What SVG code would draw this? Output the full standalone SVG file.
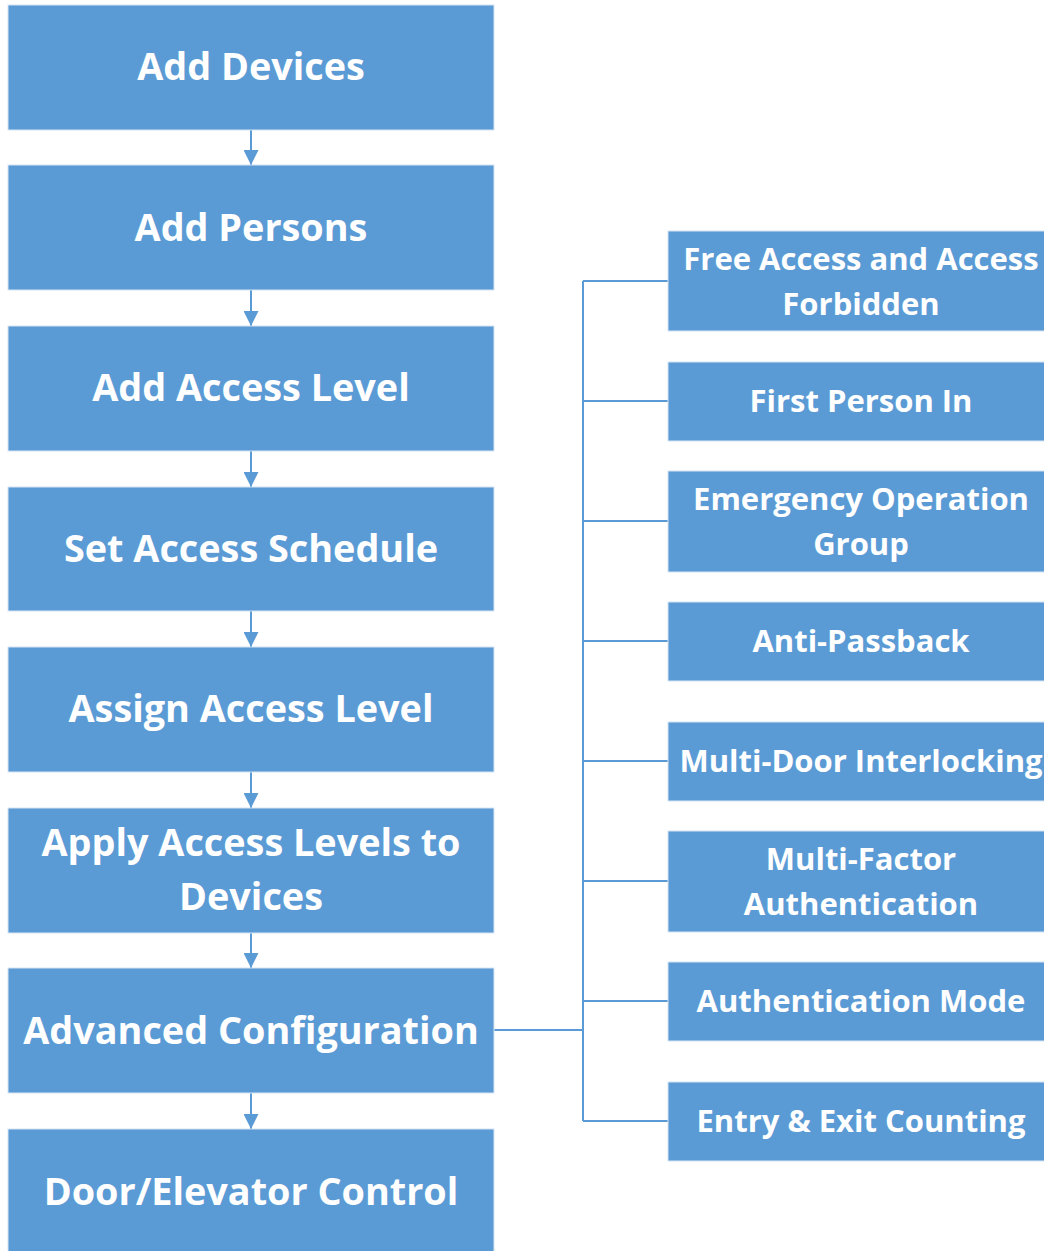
<svg xmlns="http://www.w3.org/2000/svg" width="1044" height="1251" viewBox="0 0 1044 1251">
<defs>
<style>
.box{fill:#5B9BD5;stroke:#D6E4F2;stroke-width:1}
.t1{font-family:"Open Sans","Liberation Sans",sans-serif;font-weight:bold;font-size:37.8px;fill:#fff;text-anchor:middle}
.t2{font-family:"Open Sans","Liberation Sans",sans-serif;font-weight:bold;font-size:31px;fill:#fff;text-anchor:middle}
.ln{fill:none;stroke:#5B9BD5;stroke-width:2}
</style>
<marker id="ah2" viewBox="0 0 15 15" refX="15" refY="7.5" markerWidth="15" markerHeight="15" markerUnits="userSpaceOnUse" orient="auto">
<path d="M0,0 L15,7.5 L0,15 z" fill="#5B9BD5"/>
</marker>
</defs>
<rect width="1044" height="1251" fill="#fff"/>
<g id="connectors">
<path class="ln" d="M251,130 V165" marker-end="url(#ah2)"/>
<path class="ln" d="M251,290 V326" marker-end="url(#ah2)"/>
<path class="ln" d="M251,451 V487" marker-end="url(#ah2)"/>
<path class="ln" d="M251,611 V647" marker-end="url(#ah2)"/>
<path class="ln" d="M251,772 V808" marker-end="url(#ah2)"/>
<path class="ln" d="M251,933 V968" marker-end="url(#ah2)"/>
<path class="ln" d="M251,1093 V1129" marker-end="url(#ah2)"/>
<path class="ln" d="M494,1030 H583"/>
<path class="ln" d="M583,281 V1121"/>
<path class="ln" d="M583,281 H668 M583,401 H668 M583,521 H668 M583,641 H668 M583,761 H668 M583,881 H668 M583,1001 H668 M583,1121 H668"/>
</g>
<g id="n1"><rect class="box" x="8" y="5" width="486" height="125"/><text class="t1" x="251" y="80">Add Devices</text></g>
<g id="n2"><rect class="box" x="8" y="165" width="486" height="125"/><text class="t1" x="251" y="241">Add Persons</text></g>
<g id="n3"><rect class="box" x="8" y="326" width="486" height="125"/><text class="t1" x="251" y="401">Add Access Level</text></g>
<g id="n4"><rect class="box" x="8" y="487" width="486" height="124"/><text class="t1" x="251" y="562">Set Access Schedule</text></g>
<g id="n5"><rect class="box" x="8" y="647" width="486" height="125"/><text class="t1" x="251" y="722">Assign Access Level</text></g>
<g id="n6"><rect class="box" x="8" y="808" width="486" height="125"/><text class="t1" x="251" y="856">Apply Access Levels to</text><text class="t1" x="251" y="910">Devices</text></g>
<g id="n7"><rect class="box" x="8" y="968" width="486" height="125"/><text class="t1" x="251" y="1044">Advanced Configuration</text></g>
<g id="n8"><rect class="box" x="8" y="1129" width="486" height="125"/><text class="t1" x="251" y="1205">Door/Elevator Control</text></g>
<g id="r1"><rect class="box" x="668" y="231" width="380" height="100"/><text class="t2" x="861" y="270">Free Access and Access</text><text class="t2" x="861" y="315">Forbidden</text></g>
<g id="r2"><rect class="box" x="668" y="362" width="380" height="79"/><text class="t2" x="861" y="412">First Person In</text></g>
<g id="r3"><rect class="box" x="668" y="471" width="380" height="101"/><text class="t2" x="861" y="510">Emergency Operation</text><text class="t2" x="861" y="555">Group</text></g>
<g id="r4"><rect class="box" x="668" y="602" width="380" height="79"/><text class="t2" x="861" y="652">Anti-Passback</text></g>
<g id="r5"><rect class="box" x="668" y="722" width="380" height="79"/><text class="t2" x="861" y="772">Multi-Door Interlocking</text></g>
<g id="r6"><rect class="box" x="668" y="831" width="380" height="101"/><text class="t2" x="861" y="870">Multi-Factor</text><text class="t2" x="861" y="915">Authentication</text></g>
<g id="r7"><rect class="box" x="668" y="962" width="380" height="79"/><text class="t2" x="861" y="1012">Authentication Mode</text></g>
<g id="r8"><rect class="box" x="668" y="1082" width="380" height="79"/><text class="t2" x="861" y="1132">Entry &amp; Exit Counting</text></g>
</svg>
